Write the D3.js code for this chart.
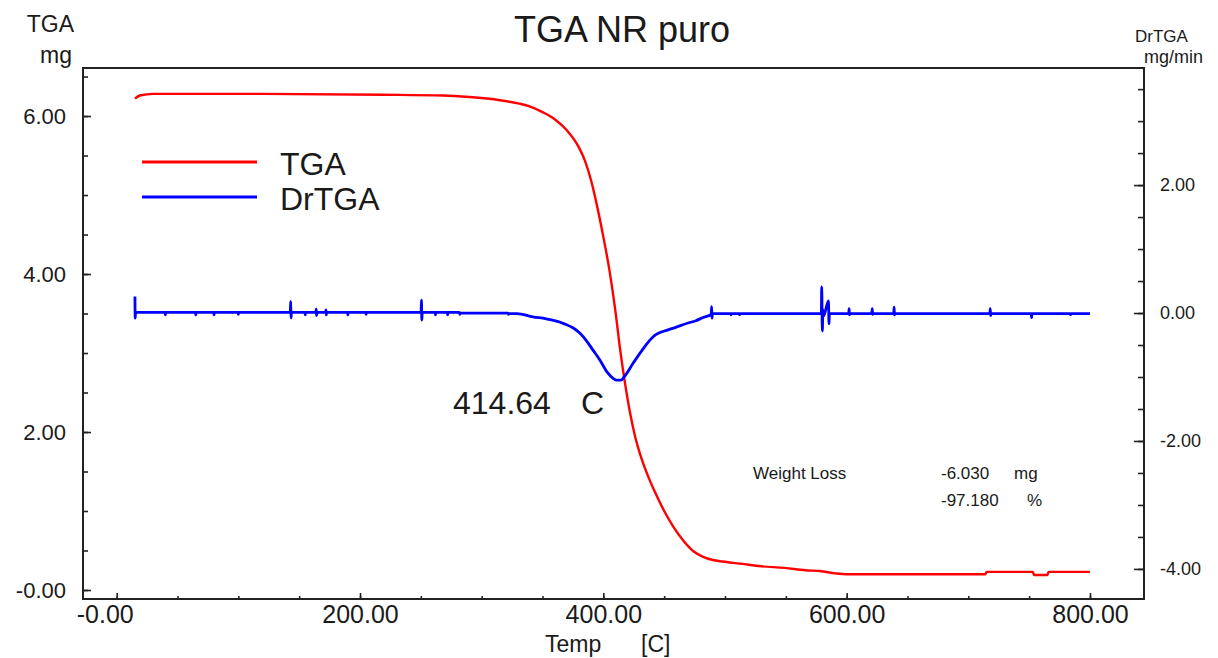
<!DOCTYPE html>
<html>
<head>
<meta charset="utf-8">
<script src="https://cdn.jsdelivr.net/npm/d3@7"></script>
<style>
  body { margin: 0; background: #fff; }
  svg { display: block; font-family: "Liberation Sans", Arial, sans-serif; }
  .axis path { display: none; }
  .axis line { stroke: #222; stroke-width: 1.6; }
  .axis text { fill: #1a1a1a; }
</style>
</head>
<body>
<div id="chart-area"></div>
<script>
// TGA curve (mass, mg) vs temperature (C)
const tgaTemp = [15, 19, 30, 44, 120, 219, 268, 290, 315, 330, 340, 350, 360, 370, 380, 385, 390, 395,
  400, 405, 410, 414, 418, 422, 426, 430, 436, 443, 450, 458, 466, 474, 482, 490, 498, 514, 530, 549,
  566, 578, 591, 600, 714, 715, 753, 754, 765, 766, 800];
const tgaMass = [6.22, 6.26, 6.28, 6.28, 6.28, 6.27, 6.26, 6.24, 6.20, 6.16, 6.12, 6.05, 5.96, 5.82, 5.60, 5.43, 5.18, 4.85,
  4.47, 4.05, 3.52, 3.02, 2.60, 2.24, 1.95, 1.73, 1.47, 1.22, 1.00, 0.79, 0.62, 0.49, 0.42, 0.38, 0.36, 0.33, 0.30, 0.28,
  0.25, 0.24, 0.21, 0.20, 0.20, 0.23, 0.23, 0.19, 0.19, 0.23, 0.23];

// DrTGA curve (mg/min) vs temperature (C), one line per feature
const drTemp = [
  15, 15.2, 15.5,
  39.7, 40, 40.3,
  64.7, 65, 65.3,
  79.7, 80, 80.3,
  99.7, 100, 100.3,
  142.7, 143, 143.3, 143.6,
  154.7, 155, 155.3,
  163.7, 164, 164.3, 164.6,
  171.7, 172, 172.3, 172.6,
  189.7, 190, 190.3,
  204.7, 205, 205.3,
  250.2, 250.5, 250.8, 251.1,
  261.7, 262, 262.3,
  271.7, 272, 272.3,
  281.7, 282, 282.3,
  321.7, 322, 322.3,
  329, 342, 353, 364, 368, 375, 381, 386, 391.5, 397, 403, 408, 411, 414.64, 417, 419.4,
  424.3, 430, 435, 441, 446, 452, 460, 469, 476, 482, 488.7,
  489, 489.3, 489.6,
  504.7, 505, 505.3,
  511.7, 512, 512.3,
  579.2, 579.5, 580, 580.5, 581, 585, 585.5, 585.8,
  601.7, 602, 602.3, 602.6,
  620.7, 621, 621.3, 621.6,
  638.7, 639, 639.3, 639.6,
  717.7, 718, 718.3, 718.6,
  751.7, 752, 752.3,
  783.7, 784, 784.3,
  800];
const drRate = [
  0.26, -0.08, 0.01,
  0.01, -0.03, 0.01,
  0.01, -0.03, 0.01,
  0.01, -0.03, 0.01,
  0.01, -0.02, 0.01,
  0.01, 0.18, -0.08, 0.01,
  0.01, -0.03, 0.01,
  0.01, 0.06, -0.04, 0.01,
  0.01, 0.05, -0.03, 0.01,
  0.01, -0.03, 0.01,
  0.01, -0.02, 0.01,
  0.01, 0.20, -0.11, 0.01,
  0.01, -0.03, 0.01,
  0.01, -0.03, 0.01,
  0.01, -0.02, 0.0,
  0.0, -0.02, -0.01,
  -0.01, -0.06, -0.09, -0.14, -0.17, -0.23, -0.32, -0.43, -0.58, -0.73, -0.92, -1.02, -1.05, -1.05, -1.0, -0.94,
  -0.79, -0.63, -0.5, -0.37, -0.31, -0.27, -0.22, -0.16, -0.12, -0.07, -0.02,
  0.10, -0.08, -0.01,
  -0.01, -0.03, -0.01,
  -0.01, -0.03, -0.01,
  -0.01, 0.41, -0.28, 0.05, -0.05, 0.19, -0.17, -0.01,
  -0.01, 0.07, -0.03, -0.01,
  -0.01, 0.07, -0.02, -0.01,
  -0.01, 0.09, -0.03, -0.01,
  -0.01, 0.07, -0.04, -0.01,
  -0.01, -0.07, -0.01,
  -0.01, -0.03, -0.01,
  -0.01];

const xMajor = [0, 200, 400, 600, 800];
const xMinor = d3.range(0, 801, 50);
const yLeftMajor = [0, 2, 4, 6];
const yLeftMinor = d3.range(0, 6.51, 0.5);
const yRightMajor = [-4, -2, 0, 2];
const yRightMinor = d3.range(-4, 3.51, 0.5);

const peakLabel = '414.64';
const weightLossMg = '-6.030';
const weightLossPct = '-97.180';

const W = 1218, H = 658;
const plot = { left: 83, top: 68, right: 1144, bottom: 599 };

const svg = d3.select('#chart-area').append('svg')
  .attr('width', W)
  .attr('height', H);

const x = d3.scaleLinear().domain([-27.7, 844.4]).range([plot.left, plot.right]);
const yL = d3.scaleLinear().domain([-0.114, 6.608]).range([plot.bottom, plot.top]);
const yR = d3.scaleLinear().domain([-4.47, 3.83]).range([plot.bottom, plot.top]);

// plain hyphen for negatives, like the instrument software
const fmt = d => d3.format('.2f')(d).replace('\u2212', '-');

// axes: ticks point into the plot
svg.append('g').attr('class', 'axis')
  .attr('transform', `translate(0,${plot.bottom})`)
  .call(d3.axisBottom(x).tickValues(xMinor).tickSize(-3).tickFormat(''));
const xAx = svg.append('g').attr('class', 'axis')
  .attr('transform', `translate(0,${plot.bottom})`)
  .call(d3.axisBottom(x).tickValues(xMajor).tickSize(-6).tickPadding(6)
    .tickFormat(d => d === 0 ? '-0.00' : fmt(d)));
xAx.selectAll('text').style('font-size', '25px')
  .attr('dx', d => d === 0 ? -12 : 0);

svg.append('g').attr('class', 'axis')
  .attr('transform', `translate(${plot.left},0)`)
  .call(d3.axisLeft(yL).tickValues(yLeftMinor).tickSize(-5).tickFormat(''));
const yAxL = svg.append('g').attr('class', 'axis')
  .attr('transform', `translate(${plot.left},0)`)
  .call(d3.axisLeft(yL).tickValues(yLeftMajor).tickSize(-8).tickPadding(17)
    .tickFormat(d => d === 0 ? '-0.00' : fmt(d)));
yAxL.selectAll('text').style('font-size', '22px');

svg.append('g').attr('class', 'axis')
  .attr('transform', `translate(${plot.right},0)`)
  .call(d3.axisRight(yR).tickValues(yRightMinor).tickSize(-6).tickFormat(''));
const yAxR = svg.append('g').attr('class', 'axis')
  .attr('transform', `translate(${plot.right},0)`)
  .call(d3.axisRight(yR).tickValues(yRightMajor).tickSize(-10).tickPadding(16)
    .tickFormat(fmt));
yAxR.selectAll('text').style('font-size', '18px');

// frame
svg.append('rect')
  .attr('x', plot.left).attr('y', plot.top)
  .attr('width', plot.right - plot.left).attr('height', plot.bottom - plot.top)
  .attr('fill', 'none').attr('stroke', '#222').attr('stroke-width', 2);

// curves
const tgaLine = d3.line()
  .x((d, i) => x(tgaTemp[i]))
  .y(d => yL(d))
  .curve(d3.curveMonotoneX);
svg.append('path')
  .attr('d', tgaLine(tgaMass))
  .attr('fill', 'none').attr('stroke', '#ff0000').attr('stroke-width', 2.4)
  .attr('stroke-linejoin', 'round');

const drLine = d3.line()
  .x((d, i) => x(drTemp[i]))
  .y(d => yR(d))
  .curve(d3.curveMonotoneX);
svg.append('path')
  .attr('d', drLine(drRate))
  .attr('fill', 'none').attr('stroke', '#0000ff').attr('stroke-width', 2.8)
  .attr('stroke-linejoin', 'round');

// texts
function label(txt, px, py, size, anchor) {
  svg.append('text')
    .attr('x', px).attr('y', py)
    .attr('text-anchor', anchor || 'start')
    .style('font-size', size + 'px')
    .attr('fill', '#1a1a1a')
    .text(txt);
}

label('TGA NR puro', 622, 42, 36, 'middle');
label('TGA', 74, 32, 23, 'end');
label('mg', 72, 63, 23, 'end');
label('DrTGA', 1135, 42, 17);
label('mg/min', 1144, 63, 18);
label('Temp', 545, 652, 23);
label('[C]', 641, 652, 23);

// legend
const legend = [{ name: 'TGA', color: '#ff0000', y: 162 }, { name: 'DrTGA', color: '#0000ff', y: 197 }];
legend.forEach(l => {
  svg.append('line')
    .attr('x1', 142).attr('x2', 257).attr('y1', l.y).attr('y2', l.y)
    .attr('stroke', l.color).attr('stroke-width', 3);
  label(l.name, 280, l.y + 13, 32);
});

// peak annotation
label(peakLabel, 453, 414, 32);
label('C', 581, 414, 32);

// weight loss
label('Weight Loss', 753, 479, 17);
label(weightLossMg, 941, 479, 17);
label('mg', 1014, 479, 17);
label(weightLossPct, 941, 506, 17);
label('%', 1027, 506, 17);
</script>
</body>
</html>
